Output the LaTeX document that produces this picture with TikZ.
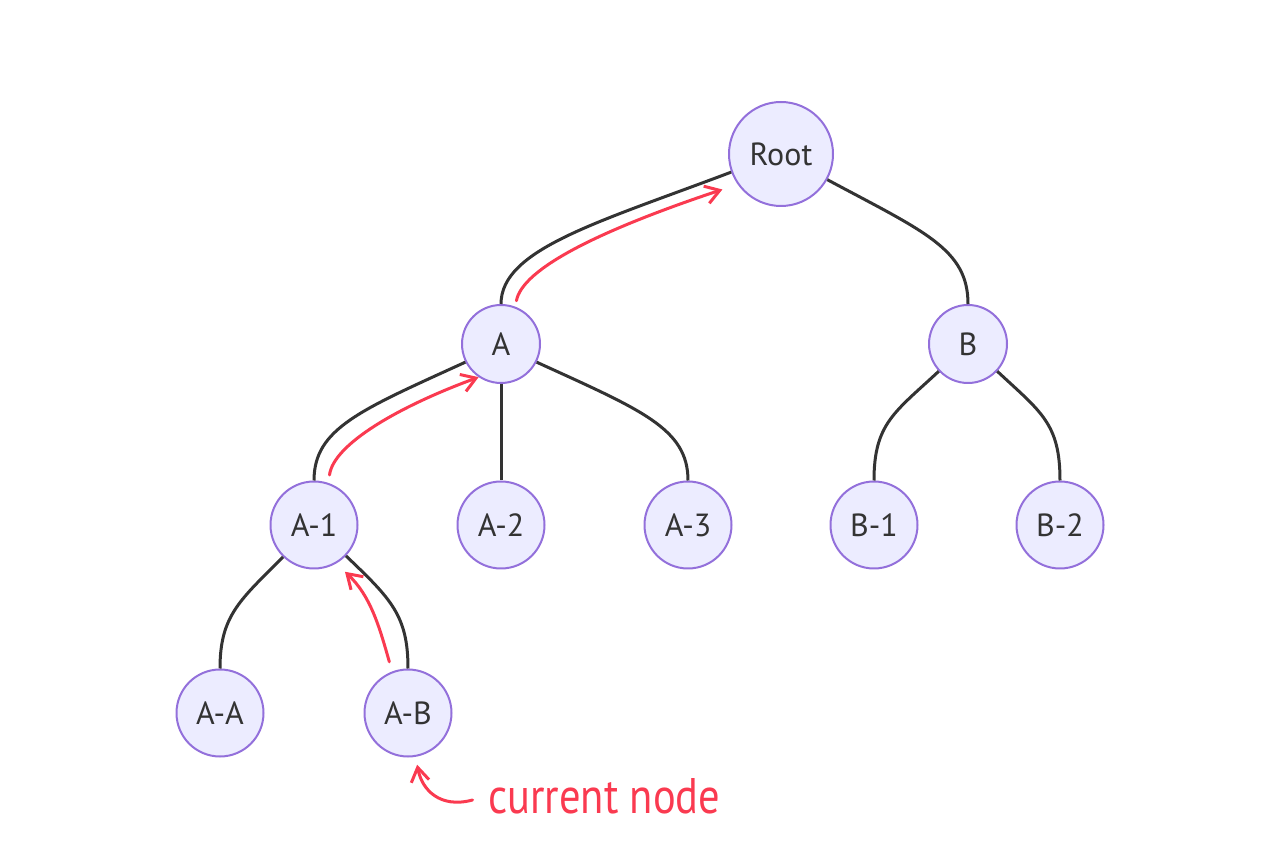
\documentclass[tikz,border=0pt]{standalone}
\usepackage{fontspec}
\setmainfont{PT Sans}
\newfontfamily\handfont[FakeStretch=0.85]{PT Sans}
\usepackage{tikz}
\usetikzlibrary{
  positioning, calc, shapes.geometric, arrows.meta}
\definecolor{nFill}{HTML}{ECECFF}
\definecolor{nLine}{HTML}{9370DB}
\definecolor{nText}{HTML}{333333}
\definecolor{eLine}{HTML}{333333}
\definecolor{tRed}{HTML}{FA3A50}
\tikzset{
    TreeNode/.style = {
        circle, draw=nLine, fill=nFill, line width=1pt,
        inner sep=0pt, minimum size=43.5pt, text=nText,
        font=\fontsize{16}{19}\selectfont
    },
    Edge/.style = {draw=eLine, line width=1.5pt},
    Trail/.style = {
        draw=tRed, line width=1.5pt, line cap=round, line join=round,
        -{Straight Barb[length=7pt, width=9pt]}
    },
    Note/.style = {
        inner sep=0pt, text=tRed,
        font=\handfont\fontsize{25}{28}\selectfont
    }
}

\begin{document}
\begin{tikzpicture}[x=0.5pt, y=-0.5pt, on grid]
    \useasboundingbox (0,0) rectangle (1280,860);
    \node[TreeNode, minimum size=52pt] (Root) at (781,154) {Root};
    \node[TreeNode, minimum size=39pt, below left=95pt and 140pt of Root] (A) {A};
    \node[TreeNode, minimum size=39pt, below right=95pt and 93.5pt of Root] (B) {B};
    \node[TreeNode, below left=90.5pt and 93.5pt of A] (A-1) {A-1};
    \node[TreeNode, below=90.5pt of A] (A-2) {A-2};
    \node[TreeNode, right=93.5pt of A-2] (A-3) {A-3};
    \node[TreeNode, right=93pt of A-3] (B-1) {B-1};
    \node[TreeNode, right=93pt of B-1] (B-2) {B-2};
    \node[TreeNode, below left=94pt and 47pt of A-1] (A-A) {A-A};
    \node[TreeNode, right=94pt of A-A] (A-B) {A-B};
    \node[Note, anchor=base west] (current) at (488,813) {current node};

    \draw [Edge] (Root.200) .. controls +(-132,50) and +(0,-55) .. (A.north);
    \draw [Edge] (Root.331) .. controls +(97,52) and +(0,-55) .. (B.north);
    \draw [Edge] (A.207) .. controls +(-105,48) and +(0,-52) .. (A-1.north);
    \draw [Edge] (A) to (A-2);
    \draw [Edge] (A.333) .. controls +(105,48) and +(0,-52) .. (A-3.north);
    \draw [Edge] (B.223) .. controls +(-44,41) and +(0,-57) .. (B-1.north);
    \draw [Edge] (B.317) .. controls +(44,41) and +(0,-57) .. (B-2.north);
    \draw [Edge] (A-1.226) .. controls +(-43,43) and +(0,-53) .. (A-A.north);
    \draw [Edge] (A-1.316) .. controls +(45,43) and +(0,-53) .. (A-B.north);

    \draw [Trail, shorten <=3pt, shorten >=8pt] (A.69) .. controls +(7,-38) and +(-138,46) .. (Root.215);
    \draw [Trail, shorten <=4pt] (A-1.71) .. controls +(5,-39) and +(-79,29) .. (A.236);
    \draw [Trail, shorten <=5pt, shorten >=6pt] (A-B.111) .. controls +(-13,-46) and +(34,32) .. (A-1.300);
    \draw [Trail, shorten <=8pt, shorten >=4pt] (current.west) .. controls +(-48,13) and +(6,33) .. (A-B.280);
\end{tikzpicture}
\end{document}
